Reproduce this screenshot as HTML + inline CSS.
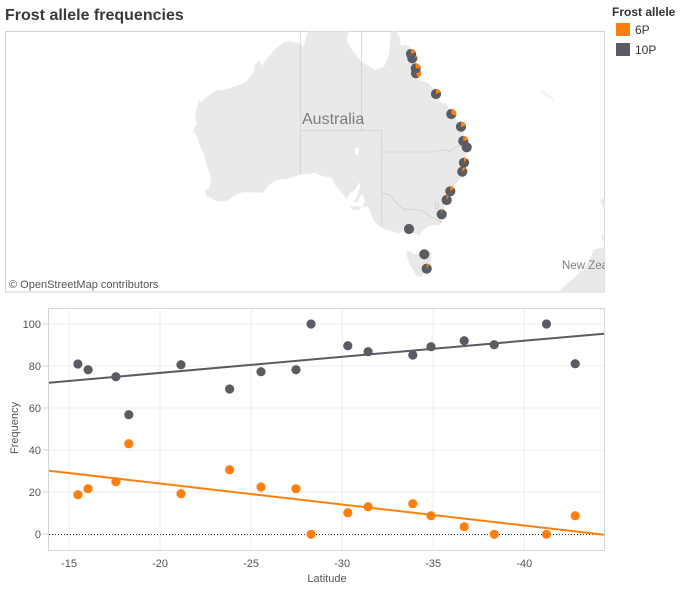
<!DOCTYPE html>
<html>
<head>
<meta charset="utf-8">
<style>
html,body{margin:0;padding:0;background:#fff;}
body{width:693px;height:593px;overflow:hidden;}
svg{display:block;font-family:"Liberation Sans",Arial,sans-serif;}
</style>
</head>
<body>
<svg width="693" height="593" viewBox="0 0 693 593" xmlns="http://www.w3.org/2000/svg">
<defs>
<clipPath id="mapclip"><rect x="5.5" y="31.5" width="599" height="260.5"/></clipPath>
</defs>

<!-- Title -->
<text x="5" y="20" font-size="16" font-weight="bold" fill="#3a3a3a">Frost allele frequencies</text>

<!-- Legend -->
<text x="612" y="16" font-size="12" font-weight="bold" fill="#333">Frost allele</text>
<rect x="616" y="23" width="14" height="13" fill="#ff7f0e"/>
<text x="635" y="34" font-size="12" fill="#333">6P</text>
<rect x="616" y="43" width="14" height="13" fill="#5a5c63"/>
<text x="635" y="54" font-size="12" fill="#333">10P</text>

<!-- Map -->
<rect x="5.5" y="31.5" width="599" height="260.5" fill="#ffffff" stroke="#d3d3d3" stroke-width="1"/>
<g clip-path="url(#mapclip)">
  <!-- Mainland Australia -->
  <path fill="#e9e9e9" d="M391.9,20.5 L393.9,26.2 L395.9,31.7 L398.7,35.2 L400.7,40.8 L399.4,45 L403.4,45.7 L405.4,45 L410.2,47.2 L410.9,54.1 L411.6,59.7 L414.3,64 L415.6,69 L416.3,73.9 L418.4,78.2 L421.8,81 L426.5,81.8 L431.2,86.1 L435.3,89.7 L438,94.9 L440,101.4 L442.8,103.6 L445.5,102.9 L448.2,107.3 L448.9,112.4 L452.3,114.7 L457,119.9 L459.7,123.7 L462.4,125.9 L462.8,123.5 L465,120.7 L463.8,129.7 L463.8,135.7 L465.8,141 L466.5,145.6 L467.5,150.6 L465.8,156.4 L464.5,162.7 L463.5,168.2 L462.4,172.9 L460.4,177.7 L457.7,181.8 L454.3,185 L451.6,191.5 L449.5,195.6 L448.2,199.7 L446.2,203.8 L444.1,208 L443.5,213.9 L442.4,219.8 L442.1,222.8 L438.7,225 L431.2,225.4 L426.5,227.6 L421.8,231.9 L418.4,236.2 L415.6,233.6 L412.3,231.9 L409.6,230.1 L407.5,229.3 L408.5,225.8 L404.8,227.6 L402.1,230.1 L398.7,234 L393.9,231.9 L388.5,230.1 L385.1,229.7 L381.7,227.1 L377.7,225 L374.3,221.5 L372.2,217.3 L370.2,211.4 L367.5,206.3 L364.4,206.8 L362.1,206.3 L364.1,203 L364.8,199.7 L362.8,194.7 L360.1,195.6 L358.6,201.3 L354.6,203 L353.6,201.3 L356.6,198 L358,193.1 L360.1,186.6 L360.1,181.8 L358,185 L354.6,189.9 L350.5,193.1 L347.8,197.2 L346.4,199.7 L342.3,193.1 L339.6,189.9 L335.5,185.8 L334.2,182.6 L331.5,177.7 L327.5,176.9 L322,176.1 L315.3,172.9 L307.1,173.7 L300.3,174.4 L293.6,176.9 L286.8,178.9 L280,179.3 L273.2,181.8 L267.1,186.6 L263.7,192.3 L256.3,192.7 L251.5,192.3 L242.7,192.3 L236.6,194.7 L231.2,198 L225.7,201.3 L220.3,201.7 L214.9,200.5 L210.1,197.2 L206.1,196 L205.4,189.9 L208.1,189.1 L209.8,186.6 L210.5,181 L210.5,175.3 L208.8,170.6 L206.1,163.5 L205.1,157.2 L202.7,151.8 L200,146.4 L198.6,140.2 L195.9,134.9 L193.2,131.2 L194.5,127.1 L196.5,124.4 L196.5,119.9 L195.2,115.4 L196.5,109.5 L197.6,104.4 L199.9,99.2 L200.6,103.6 L203.3,100 L205.4,97.8 L209.5,94.9 L213.5,91.9 L217.6,90.4 L224.4,89.7 L229.8,88.3 L235.9,86.1 L241.3,84 L246.1,81.8 L250.1,76.8 L254.2,71.8 L254.2,66.1 L256.9,62.6 L259.3,60.4 L263,66.1 L263.7,61.9 L266.4,59.7 L269.8,55.5 L273.2,51.3 L276.6,47.8 L280.7,45 L284.1,42.2 L290,41 L296,42.5 L300.3,44 L303,47 L305,42 L306.5,36 L309,30 L313.2,28 L322.1,24.8 L330.9,26 L341,28 L346.4,28 L349,30 L348,33 L346.7,40 L349,45 L352,50 L356,55 L361.4,61.9 L366.8,64.7 L370.9,67.5 L374.9,69.7 L380.4,68.2 L385,65 L388,58 L389.5,50 L390,42 L390.5,34 L391,28 Z"/>
  <!-- Kangaroo Island -->
  <path fill="#e9e9e9" d="M349.8,206.8 L358,206.3 L362.1,207.6 L358.6,209.7 L352.6,210.1 Z"/>
  <!-- Tasmania -->
  <path fill="#e9e9e9" d="M406.5,250.3 L410.9,252.1 L415.6,254.4 L419.7,253.9 L423.8,252.6 L428.5,251.2 L431.2,252.1 L431.2,258.5 L430.6,263.9 L429.2,268.5 L428.5,273.2 L424.5,272.2 L421.8,276.9 L417,276.4 L413,270.4 L410.2,264.9 L407.5,258.5 L406.8,253 Z"/>
  <!-- Lake Eyre -->
  <path fill="#ffffff" d="M355.3,147.9 L357.9,147 L359.3,150.2 L358.6,153.3 L356.2,155.5 L354.6,152 Z"/>
  <!-- State borders -->
  <g fill="none" stroke="#cfcfcf" stroke-width="0.8">
    <path d="M300.3,30 L300.3,174.4"/>
    <path d="M300.3,130.4 L381.7,130.4"/>
    <path d="M361.4,30 L361.4,130.4"/>
    <path d="M381.7,130.4 L381.7,227.1"/>
    <path d="M381.7,152 L435.3,152 L442.8,149.5 L449.6,151.5 L452.9,149 L457.7,146.5 L466.9,145.8"/>
    <path d="M381.7,193.1 L389.9,194.7 L397.3,203.8 L404.1,209.7 L408.9,208.9 L415.6,209.7 L422.4,210.5 L430.6,216.4 L442.4,222.4"/>
    <path d="M436,202.5 L438.7,203.5 L438.2,208.5 L436,209 L435.5,205 Z"/>
  </g>
  <!-- New Caledonia / Vanuatu (very faint) -->
  <ellipse cx="547" cy="95" rx="9" ry="1.8" fill="#f3f3f3" transform="rotate(35 547 95)"/>
  <circle cx="560" cy="47" r="0.9" fill="#f3f3f3"/>
  <circle cx="563" cy="58" r="0.9" fill="#f3f3f3"/>
  <circle cx="566" cy="70" r="0.9" fill="#f3f3f3"/>
  <!-- New Zealand -->
  <path fill="#e9e9e9" d="M600,200 L605,198 L612,196 L612,216 L605,212 Z"/>
  <path fill="#e9e9e9" d="M601,237 L605,232 L612,232 L612,247 L605,245 Z"/>
  <path fill="#e9e9e9" d="M556,296 L558.1,292 L564.2,286.3 L571.6,279.7 L578,274 L584.9,268.5 L586.5,266.2 L589.2,259.8 L592,254 L593,250 L600,248 L612,246 L612,296 Z"/>

  <text x="302" y="124" font-size="16" fill="#7c7c7c">Australia</text>
  <text x="562" y="269" font-size="11.5" fill="#808080">New Zealand</text>

  <!-- Pie markers -->
  <g>
    <circle cx="412.3" cy="58.3" r="5.1" fill="#5a5c63"/>
    <path d="M412.3,58.3 L412.3,53.2 A5.1,5.1 0 0 1 417.28,57.22 Z" fill="#ff7f0e"/>
    <circle cx="411" cy="54" r="5.1" fill="#5a5c63"/>
    <path d="M411,54 L411,48.9 A5.1,5.1 0 0 1 415.7,52.03 Z" fill="#ff7f0e"/>
    <circle cx="416" cy="73.3" r="5.1" fill="#5a5c63"/>
    <path d="M416,73.3 L416,68.2 A5.1,5.1 0 0 1 418.17,77.91 Z" fill="#ff7f0e"/>
    <circle cx="415.7" cy="68.3" r="5.1" fill="#5a5c63"/>
    <path d="M415.7,68.3 L415.7,63.2 A5.1,5.1 0 0 1 420.8,68.26 Z" fill="#ff7f0e"/>
    <circle cx="436" cy="94" r="5.1" fill="#5a5c63"/>
    <path d="M436,94 L436,88.9 A5.1,5.1 0 0 1 440.76,92.18 Z" fill="#ff7f0e"/>
    <circle cx="451.3" cy="114" r="5.1" fill="#5a5c63"/>
    <path d="M451.3,114 L451.3,108.9 A5.1,5.1 0 0 1 456.09,115.76 Z" fill="#ff7f0e"/>
    <circle cx="461" cy="126.7" r="5.1" fill="#5a5c63"/>
    <path d="M461,126.7 L461,121.6 A5.1,5.1 0 0 1 466.03,125.87 Z" fill="#ff7f0e"/>
    <circle cx="466.7" cy="147.3" r="5.1" fill="#5a5c63"/>
    <circle cx="463.3" cy="141" r="5.1" fill="#5a5c63"/>
    <path d="M463.3,141 L463.3,135.9 A5.1,5.1 0 0 1 468.28,139.92 Z" fill="#ff7f0e"/>
    <circle cx="462.3" cy="171.7" r="5.1" fill="#5a5c63"/>
    <path d="M462.3,171.7 L462.3,166.6 A5.1,5.1 0 0 1 466.02,168.21 Z" fill="#ff7f0e"/>
    <circle cx="464" cy="162.7" r="5.1" fill="#5a5c63"/>
    <path d="M464,162.7 L464,157.6 A5.1,5.1 0 0 1 467.05,158.61 Z" fill="#ff7f0e"/>
    <circle cx="446.7" cy="200" r="5.1" fill="#5a5c63"/>
    <path d="M446.7,200 L446.7,194.9 A5.1,5.1 0 0 1 449.35,195.64 Z" fill="#ff7f0e"/>
    <circle cx="450.3" cy="191.3" r="5.1" fill="#5a5c63"/>
    <path d="M450.3,191.3 L450.3,186.2 A5.1,5.1 0 0 1 454.31,188.15 Z" fill="#ff7f0e"/>
    <circle cx="441.7" cy="214.3" r="5.1" fill="#5a5c63"/>
    <path d="M441.7,214.3 L441.7,209.2 A5.1,5.1 0 0 1 442.81,209.32 Z" fill="#ff7f0e"/>
    <circle cx="409" cy="229" r="5.1" fill="#5a5c63"/>
    <circle cx="424.3" cy="254.3" r="5.1" fill="#5a5c63"/>
    <circle cx="426.7" cy="268.7" r="5.1" fill="#5a5c63"/>
    <path d="M426.7,268.7 L426.7,263.6 A5.1,5.1 0 0 1 429.35,264.34 Z" fill="#ff7f0e"/>
  </g>

  <text x="9" y="288" font-size="11" fill="#555">© OpenStreetMap contributors</text>
</g>

<!-- Scatter plot -->
<rect x="48.5" y="308.5" width="556" height="242" fill="#fff" stroke="#d6d6d6" stroke-width="1"/>
<g stroke="#ececec" stroke-width="1">
  <line x1="49" y1="324" x2="604" y2="324"/>
  <line x1="49" y1="366" x2="604" y2="366"/>
  <line x1="49" y1="408" x2="604" y2="408"/>
  <line x1="49" y1="450" x2="604" y2="450"/>
  <line x1="49" y1="492" x2="604" y2="492"/>
  <line x1="69" y1="309" x2="69" y2="550"/>
  <line x1="160.1" y1="309" x2="160.1" y2="550"/>
  <line x1="251.1" y1="309" x2="251.1" y2="550"/>
  <line x1="342.2" y1="309" x2="342.2" y2="550"/>
  <line x1="433.2" y1="309" x2="433.2" y2="550"/>
  <line x1="524.3" y1="309" x2="524.3" y2="550"/>
</g>
<g stroke="#d6d6d6" stroke-width="1">
  <line x1="43" y1="324" x2="48" y2="324"/>
  <line x1="43" y1="366" x2="48" y2="366"/>
  <line x1="43" y1="408" x2="48" y2="408"/>
  <line x1="43" y1="450" x2="48" y2="450"/>
  <line x1="43" y1="492" x2="48" y2="492"/>
  <line x1="43" y1="534" x2="48" y2="534"/>
</g>
<line x1="49" y1="534.5" x2="604" y2="534.5" stroke="#333" stroke-width="1" stroke-dasharray="1,2"/>

<g font-size="11" fill="#555" text-anchor="end">
  <text x="41" y="328">100</text>
  <text x="41" y="370">80</text>
  <text x="41" y="412">60</text>
  <text x="41" y="454">40</text>
  <text x="41" y="496">20</text>
  <text x="41" y="538">0</text>
</g>
<g font-size="11" fill="#555" text-anchor="middle">
  <text x="69" y="567">-15</text>
  <text x="160.1" y="567">-20</text>
  <text x="251.1" y="567">-25</text>
  <text x="342.2" y="567">-30</text>
  <text x="433.2" y="567">-35</text>
  <text x="524.3" y="567">-40</text>
  <text x="327" y="582">Latitude</text>
  <text x="0" y="0" transform="translate(18,428) rotate(-90)">Frequency</text>
</g>

<!-- Trend lines -->
<line x1="49" y1="382.7" x2="604" y2="333.7" stroke="#5a5c63" stroke-width="2"/>
<line x1="49" y1="470.7" x2="604" y2="534.7" stroke="#ff7f0e" stroke-width="2"/>

<!-- Grey points -->
<g fill="#5a5c63">
  <circle cx="77.9" cy="364" r="4.6"/>
  <circle cx="88.1" cy="369.7" r="4.6"/>
  <circle cx="115.9" cy="376.7" r="4.6"/>
  <circle cx="128.8" cy="414.7" r="4.6"/>
  <circle cx="181" cy="364.7" r="4.6"/>
  <circle cx="229.6" cy="389" r="4.6"/>
  <circle cx="261" cy="371.7" r="4.6"/>
  <circle cx="296" cy="369.7" r="4.6"/>
  <circle cx="311" cy="324" r="4.6"/>
  <circle cx="347.8" cy="345.7" r="4.6"/>
  <circle cx="368.1" cy="351.7" r="4.6"/>
  <circle cx="412.8" cy="355" r="4.6"/>
  <circle cx="431" cy="346.7" r="4.6"/>
  <circle cx="464.2" cy="340.7" r="4.6"/>
  <circle cx="494.2" cy="344.7" r="4.6"/>
  <circle cx="546.5" cy="324" r="4.6"/>
  <circle cx="575.2" cy="363.7" r="4.6"/>
</g>
<!-- Orange points -->
<g fill="#ff7f0e">
  <circle cx="77.9" cy="494.7" r="4.6"/>
  <circle cx="88.1" cy="488.7" r="4.6"/>
  <circle cx="115.9" cy="481.7" r="4.6"/>
  <circle cx="128.8" cy="443.7" r="4.6"/>
  <circle cx="181" cy="493.7" r="4.6"/>
  <circle cx="229.6" cy="469.7" r="4.6"/>
  <circle cx="261" cy="487" r="4.6"/>
  <circle cx="296" cy="488.7" r="4.6"/>
  <circle cx="311" cy="534.3" r="4.6"/>
  <circle cx="347.8" cy="512.7" r="4.6"/>
  <circle cx="368.1" cy="506.7" r="4.6"/>
  <circle cx="412.8" cy="503.7" r="4.6"/>
  <circle cx="431" cy="515.7" r="4.6"/>
  <circle cx="464.2" cy="526.7" r="4.6"/>
  <circle cx="494.2" cy="534.3" r="4.6"/>
  <circle cx="546.5" cy="534.3" r="4.6"/>
  <circle cx="575.2" cy="515.7" r="4.6"/>
</g>
</svg>
</body>
</html>
